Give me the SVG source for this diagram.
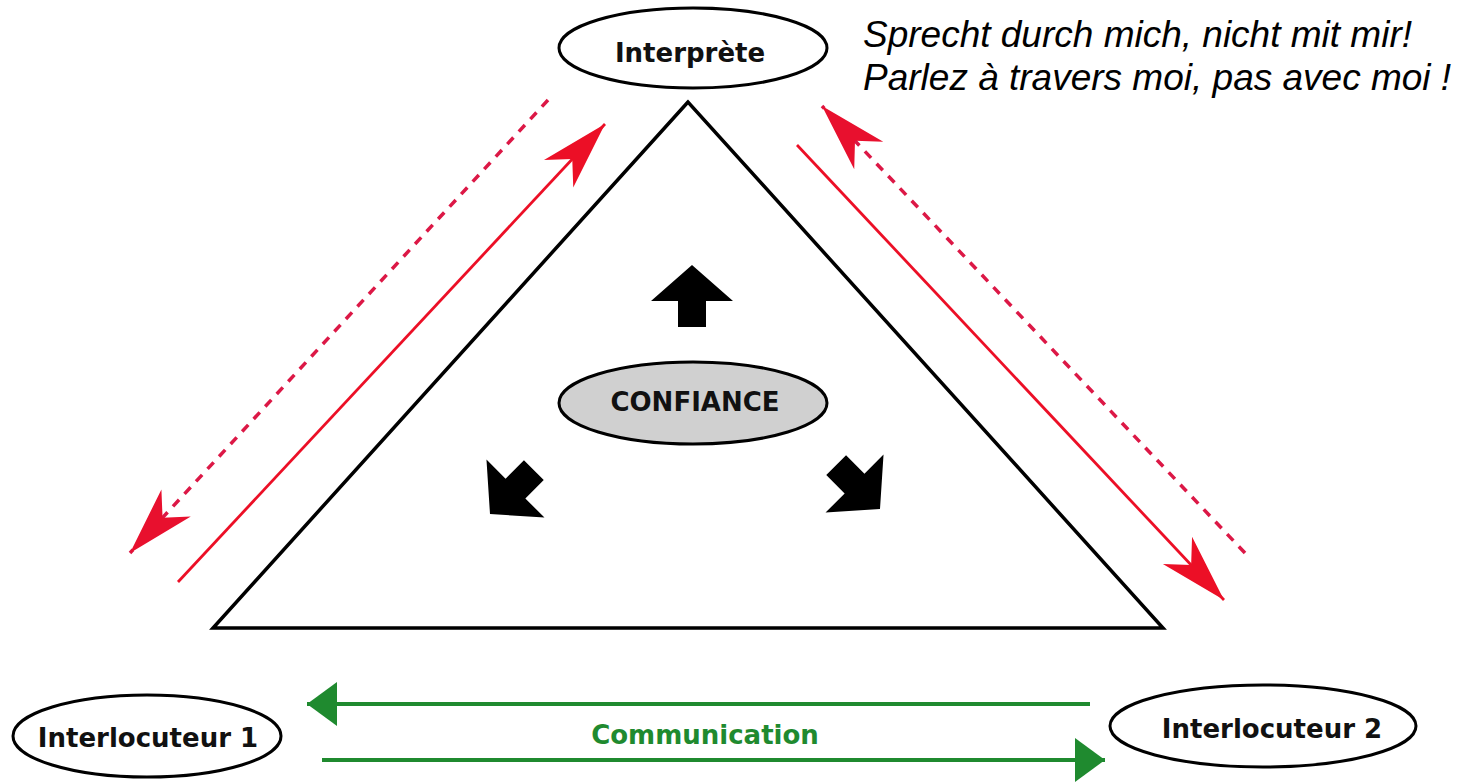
<svg xmlns="http://www.w3.org/2000/svg" width="1464" height="784" viewBox="0 0 1464 784">
  <style>
    .node { fill: #ffffff; stroke: #000000; stroke-width: 3; }
    .gray { fill: #d0d0d0; stroke: #000000; stroke-width: 3; }
    .lbl { font-family: "DejaVu Sans", "Liberation Sans", sans-serif; font-weight: bold; font-size: 26px; fill: #111111; text-anchor: middle; }
    .quote { font-family: "Liberation Sans", Arial, sans-serif; font-style: italic; font-size: 37px; fill: #000000; }
    .red { stroke: #ec0f26; stroke-width: 2.8; fill: none; marker-end: url(#redHead); }
    .reddash { stroke: #dc1846; stroke-width: 3.5; fill: none; stroke-dasharray: 9 8; marker-end: url(#dashHead); }
    .green { stroke: #1f8a2f; stroke-width: 4; fill: none; marker-end: url(#greenHead); }
  </style>
  <defs>
    <marker id="redHead" markerUnits="userSpaceOnUse" viewBox="-70 -22 72 44" refX="0" refY="0" markerWidth="72" markerHeight="44" orient="auto">
      <path d="M0,0 L-68,-20 L-48,0 L-68,20 Z" fill="#ec0f26"/>
    </marker>
    <marker id="dashHead" markerUnits="userSpaceOnUse" viewBox="-70 -22 72 44" refX="0" refY="0" markerWidth="72" markerHeight="44" orient="auto">
      <path d="M0,0 L-68,-20 L-48,0 L-68,20 Z" fill="#e8102e"/>
    </marker>
    <marker id="greenHead" markerUnits="userSpaceOnUse" viewBox="-32 -24 34 48" refX="0" refY="0" markerWidth="34" markerHeight="48" orient="auto">
      <path d="M0,0 L-30,-22 L-30,22 Z" fill="#1f8a2f"/>
    </marker>
    <path id="blockArrow" d="M0,0 L41,36 L14,36 L14,62 L-14,62 L-14,36 L-41,36 Z" fill="#000000"/>
  </defs>

  <rect width="1464" height="784" fill="#ffffff"/>

  <g id="triangle">
    <polygon points="688,102 213,628 1163,628" fill="none" stroke="#000000" stroke-width="3.5"/>
  </g>

  <g id="connectors">
    <line class="reddash" x1="548" y1="100" x2="130" y2="553"/>
    <line class="red" x1="178" y1="582" x2="605" y2="124"/>
    <line class="red" x1="797" y1="145" x2="1224" y2="600"/>
    <line class="reddash" x1="1245" y1="553" x2="822" y2="106"/>
    <line class="green" x1="1090" y1="704" x2="307" y2="704"/>
    <line class="green" x1="322" y1="760" x2="1105" y2="760"/>
  </g>

  <g id="trust-arrows">
    <use href="#blockArrow" transform="translate(692,265)"/>
    <use href="#blockArrow" transform="translate(490,514) rotate(225)"/>
    <use href="#blockArrow" transform="translate(880,509) rotate(135)"/>
  </g>

  <g id="interprete">
    <ellipse class="node" cx="693" cy="48" rx="134" ry="40"/>
    <text class="lbl" x="690" y="62">Interprète</text>
  </g>

  <g id="confiance">
    <ellipse class="gray" cx="693" cy="403" rx="134" ry="41"/>
    <text class="lbl" x="695" y="411">CONFIANCE</text>
  </g>

  <g id="interlocuteur1">
    <ellipse class="node" cx="147" cy="736" rx="134" ry="41"/>
    <text class="lbl" x="148" y="747">Interlocuteur 1</text>
  </g>

  <g id="interlocuteur2">
    <ellipse class="node" cx="1263" cy="726" rx="153" ry="41"/>
    <text class="lbl" x="1272" y="738">Interlocuteur 2</text>
  </g>

  <g id="communication">
    <text class="lbl" x="705" y="744" style="fill:#1f8a2f">Communication</text>
  </g>

  <g id="quote">
    <text class="quote" x="863" y="47">Sprecht durch mich, nicht mit mir!</text>
    <text class="quote" x="863" y="90">Parlez à travers moi, pas avec moi !</text>
  </g>
</svg>
